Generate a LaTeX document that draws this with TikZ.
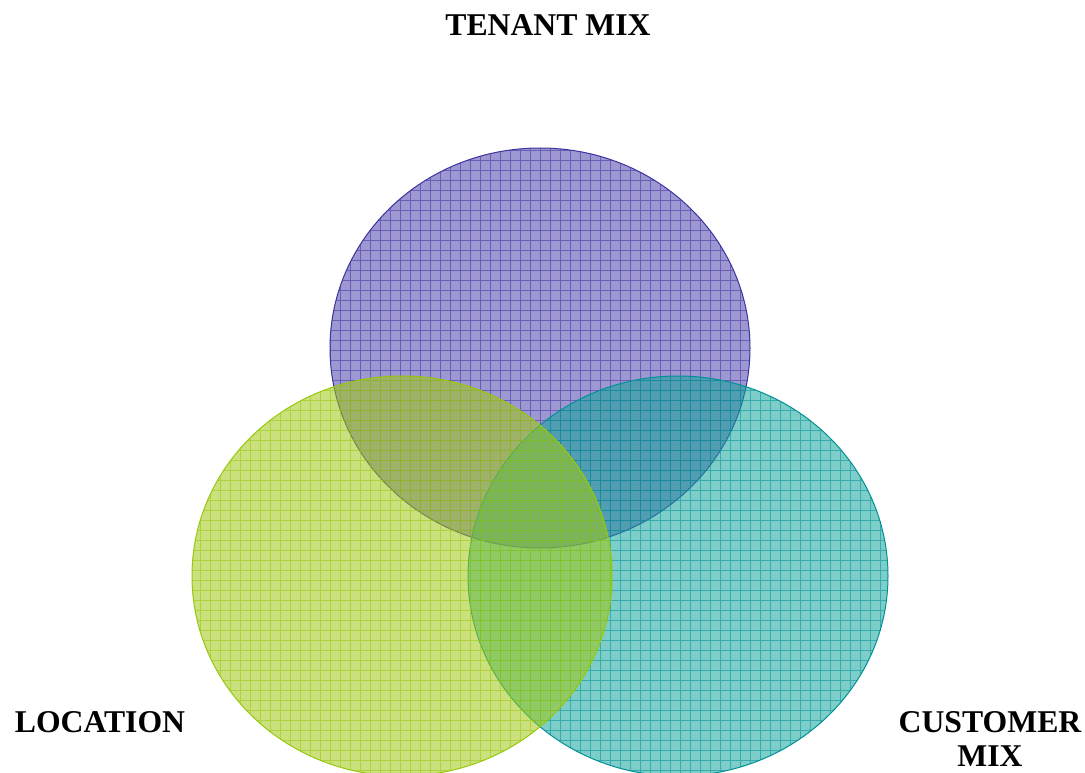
\documentclass[tikz,border=0pt]{standalone}
\usepackage{fontspec}
\setmainfont{Liberation Serif}
\definecolor{purpF}{RGB}{60,50,165}
\definecolor{purpL}{RGB}{60,50,160}
\definecolor{greenF}{RGB}{160,200,20}
\definecolor{greenL}{RGB}{150,200,10}
\definecolor{tealF}{RGB}{19,164,155}
\definecolor{tealL}{RGB}{0,145,150}
\tikzset{
  lbl/.style={font=\fontsize{31.7}{35}\selectfont\bfseries, align=center, text=black, inner sep=0pt},
  gridln/.style={line width=0.7pt, draw opacity=0.55},
  edge/.style={line width=1pt}
}
\begin{document}
\begin{tikzpicture}[x=1pt,y=-1pt]
\useasboundingbox (0,0) rectangle (1085,773);
% top circle
\begin{scope}
  \clip (540,348) ellipse (210 and 200);
  \fill[purpF, fill opacity=0.5] (540,348) ellipse (210 and 200);
  \draw[purpL, gridln, step=10pt] (320,140) grid (760,560);
\end{scope}
\draw[purpL, edge] (540,348) ellipse (210 and 200);
% right circle
\begin{scope}
  \clip (678,576) ellipse (210 and 200);
  \fill[tealF, fill opacity=0.55] (678,576) ellipse (210 and 200);
  \draw[tealL, gridln, step=10pt] (460,370) grid (900,790);
\end{scope}
\draw[tealL, edge] (678,576) ellipse (210 and 200);
% left circle
\begin{scope}
  \clip (402,576) ellipse (210 and 200);
  \fill[greenF, fill opacity=0.55] (402,576) ellipse (210 and 200);
  \draw[greenL, gridln, step=10pt] (180,370) grid (620,790);
\end{scope}
\draw[greenL, edge] (402,576) ellipse (210 and 200);
% labels
\node[lbl] (tenant) at (548,25) {TENANT MIX};
\node[lbl] (location) at (100,722) {LOCATION};
\node[lbl] (customer) at (990,739) {CUSTOMER\\MIX};
\end{tikzpicture}
\end{document}
